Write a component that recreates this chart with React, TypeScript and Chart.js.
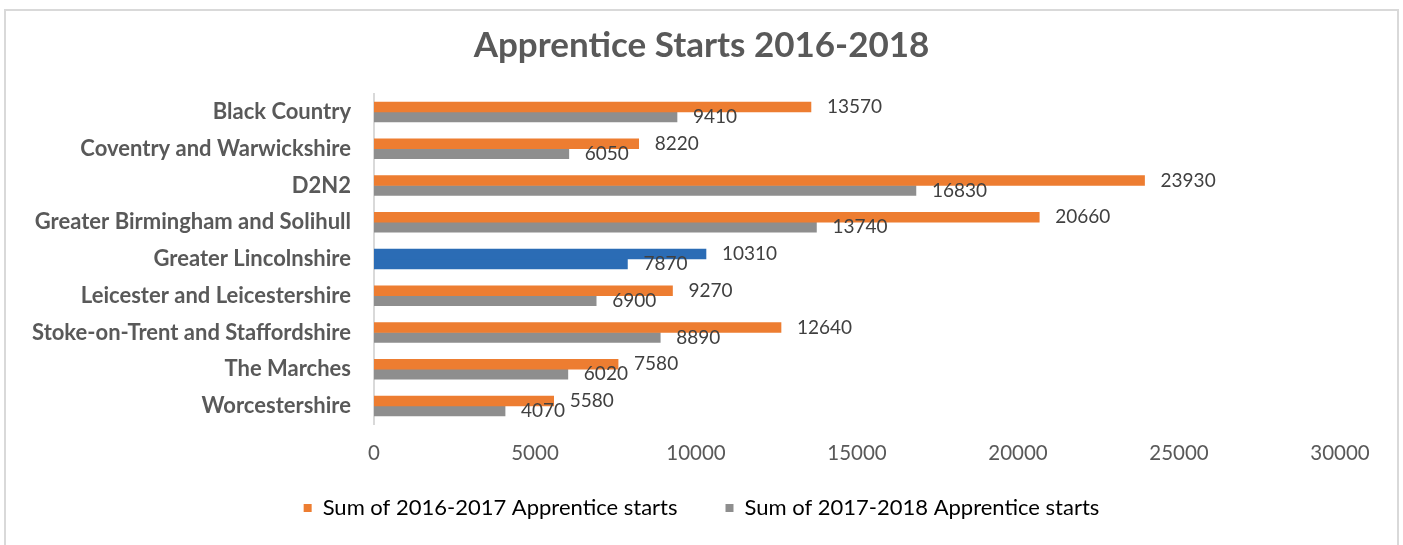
import React, { useEffect, useRef } from "react";
import { Chart, registerables } from "chart.js";

Chart.register(...registerables);

const categories = [
  "Black Country",
  "Coventry and Warwickshire",
  "D2N2",
  "Greater Birmingham and Solihull",
  "Greater Lincolnshire",
  "Leicester and Leicestershire",
  "Stoke-on-Trent and Staffordshire",
  "The Marches",
  "Worcestershire",
];
const starts2016_2017 = [13570, 8220, 23930, 20660, 10310, 9270, 12640, 7580, 5580];
const starts2017_2018 = [9410, 6050, 16830, 13740, 7870, 6900, 8890, 6020, 4070];
const seriesNames = ["Sum of 2016-2017 Apprentice starts", "Sum of 2017-2018 Apprentice starts"];
const highlighted = "Greater Lincolnshire";

const ORANGE = "#ED7D31";
const GREY = "#8E8E8E";
const BLUE = "#2B6CB5";
const FONT = "Lato, 'Open Sans', sans-serif";

const LEGEND_FONT = 22;
const LEGEND_PAD = 48;
const LEGEND_TEXT_Y = 508;

const valueLabels = {
  id: "valueLabels",
  afterDatasetsDraw(chart: any) {
    const ctx = chart.ctx;
    ctx.save();
    ctx.font = `19px ${FONT}`;
    ctx.fillStyle = "#404040";
    ctx.textAlign = "left";
    ctx.textBaseline = "middle";
    chart.data.datasets.forEach((ds: any, di: number) => {
      const meta = chart.getDatasetMeta(di);
      meta.data.forEach((el: any, i: number) => {
        ctx.fillText(String(ds.data[i]), el.x + 16, el.y);
      });
    });
    ctx.restore();
  },
};

const legendPlacement = {
  id: "legendPlacement",
  afterLayout(chart: any) {
    const l = chart.legend;
    if (!l) return;
    const top = LEGEND_TEXT_Y - LEGEND_PAD - LEGEND_FONT / 2;
    l.top = top;
    l.bottom = chart.height;
    l.height = chart.height - top;
  },
};

export default function App() {
  const ref = useRef<HTMLCanvasElement>(null);
  useEffect(() => {
    if (!ref.current) return;
    const colorsFor = (base: string) => categories.map((c) => (c === highlighted ? BLUE : base));
    const chart = new Chart(ref.current, {
      type: "bar",
      data: {
        labels: categories,
        datasets: [
          { label: seriesNames[0], data: starts2016_2017, backgroundColor: colorsFor(ORANGE), barThickness: 10 },
          { label: seriesNames[1], data: starts2017_2018, backgroundColor: colorsFor(GREY), barThickness: 10 },
        ],
      },
      options: {
        indexAxis: "y",
        responsive: false,
        animation: false,
        layout: { padding: { left: 0, right: 0, top: 0, bottom: 0 } },
        scales: {
          x: {
            min: 0,
            max: 30000,
            ticks: {
              stepSize: 5000,
              color: "#595959",
              font: { family: FONT, size: 20.5 },
              padding: 16.3,
              callback: (v: any) => String(v),
            },
            grid: { display: false, drawTicks: false },
            border: { display: false },
          },
          y: {
            grid: { display: false, drawTicks: false },
            border: { display: true, color: "#D9D9D9", width: 2 },
            ticks: { color: "#595959", font: { family: FONT, size: 22, weight: "bold" }, padding: 23 },
            afterFit: (s: any) => {
              s.width = 374;
            },
          },
          y2: {
            position: "right",
            display: true,
            grid: { display: false, drawTicks: false },
            border: { display: false },
            ticks: { display: false },
            afterFit: (s: any) => {
              s.width = 63;
            },
          },
        },
        plugins: {
          title: {
            display: true,
            text: "Apprentice Starts 2016-2018",
            color: "#595959",
            font: { family: FONT, size: 35, weight: "bold" },
            padding: { top: 25, bottom: 26.6 },
          },
          legend: {
            position: "bottom",
            maxHeight: 63.4,
            labels: {
              color: "#595959",
              font: { family: FONT, size: LEGEND_FONT },
              boxWidth: 8,
              boxHeight: 8,
              padding: LEGEND_PAD,
              generateLabels: () =>
                seriesNames.map((n, i) => ({
                  text: n,
                  fillStyle: i === 0 ? ORANGE : GREY,
                  strokeStyle: i === 0 ? ORANGE : GREY,
                  lineWidth: 0,
                  datasetIndex: i,
                  hidden: false,
                })),
            },
          },
          tooltip: { enabled: false },
        },
      },
      plugins: [valueLabels, legendPlacement],
    });
    return () => chart.destroy();
  }, []);
  return (
    <div style={{ position: "absolute", left: 0, top: 0, width: 1403, height: 545, overflow: "hidden", background: "#fff" }}>
      <div
        style={{
          position: "absolute",
          left: 4,
          top: 9,
          width: 1395,
          height: 600,
          border: "2px solid #D9D9D9",
          boxSizing: "border-box",
        }}
      />
      <canvas ref={ref} width={1403} height={545} style={{ position: "absolute", left: 0, top: 0 }} />
    </div>
  );
}
